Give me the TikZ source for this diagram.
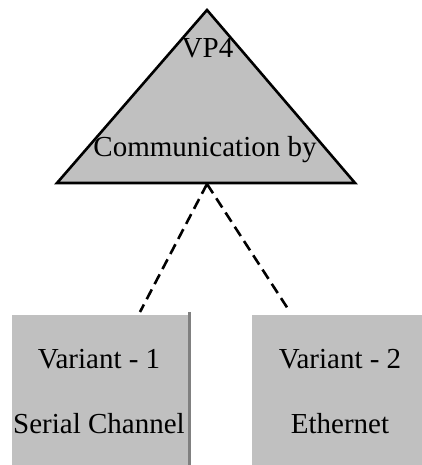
\documentclass[tikz,border=0pt]{standalone}
\usepackage{fontspec}
\setmainfont{Liberation Serif}
\definecolor{boxgray}{RGB}{192,192,192}
\definecolor{edgegray}{RGB}{128,128,128}
\tikzset{
  lbl/.style={anchor=base, inner sep=0pt, font=\fontsize{29}{34}\selectfont},
  variantbox/.style={fill=boxgray, draw=none, minimum height=150pt, inner sep=0pt},
  link/.style={line width=2.6pt, dash pattern=on 11pt off 6pt},
}
\begin{document}
\begin{tikzpicture}[x=1pt,y=-1pt]
\useasboundingbox (0,0) rectangle (422,465);
% triangle
\coordinate (apex) at (207,10);
\coordinate (bl) at (57,183);
\coordinate (br) at (355,183);
\draw[fill=boxgray, line width=2.6pt, line join=miter] (apex) -- (bl) -- (br) -- cycle;
\node[lbl] (vp) at (207.5,58) {VP4};
\node[lbl] (comm) at (205,157) {Communication by};
% boxes
\node[variantbox, minimum width=177pt] (v1) at (100.5,390) {};
\node[variantbox, minimum width=170pt] (v2) at (337,390) {};
\draw[edgegray, line width=3pt] ([yshift=3pt]v1.north east) -- (v1.south east);
\node[lbl] (v1a) at (99,368) {Variant - 1};
\node[lbl] (v1b) at (99,433) {Serial Channel};
\node[lbl] (v2a) at (340,368) {Variant - 2};
\node[lbl] (v2b) at (340,433) {Ethernet};
% connectors
\coordinate (hub) at (207,184);
\coordinate (e1) at (140,312);
\coordinate (e2) at (290,312);
\draw[link] (hub) -- (e1);
\draw[link] (hub) -- (e2);
\end{tikzpicture}
\end{document}
